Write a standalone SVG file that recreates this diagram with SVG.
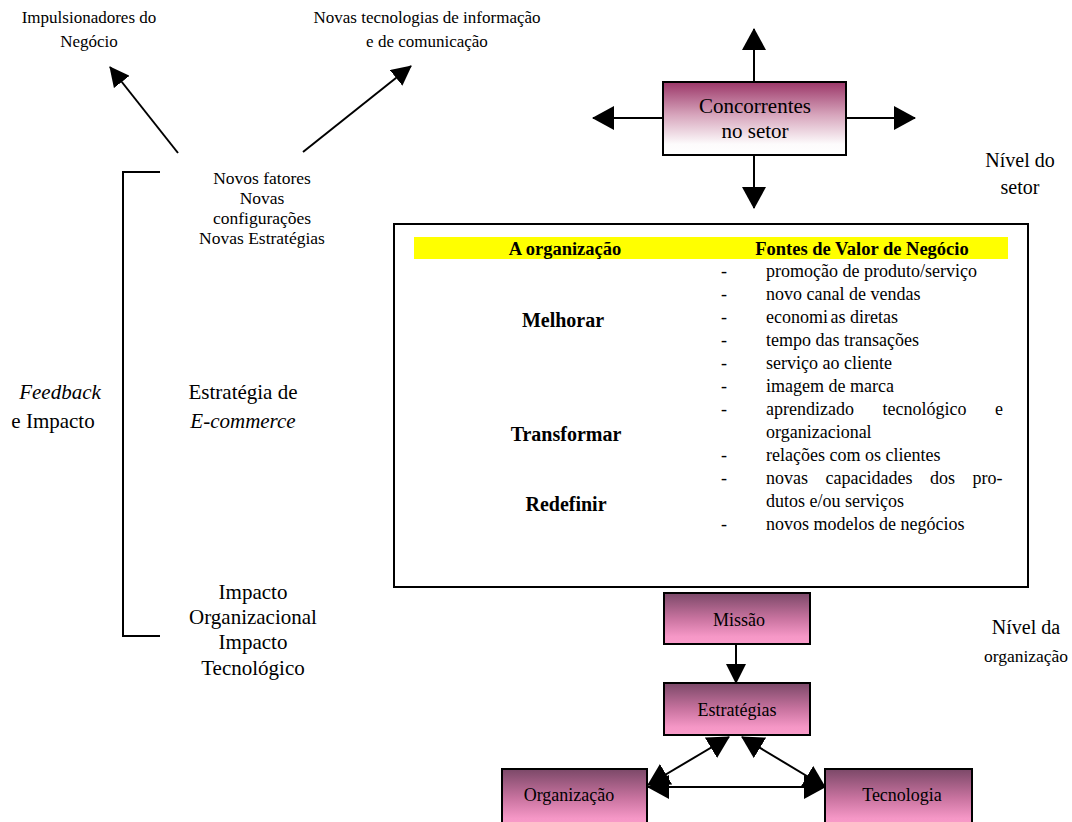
<svg xmlns="http://www.w3.org/2000/svg" width="1072" height="822" viewBox="0 0 1072 822">
  <defs>
    <linearGradient id="gradSetor" x1="0" y1="0" x2="0" y2="1">
      <stop offset="0" stop-color="#9b3668"/>
      <stop offset="0.45" stop-color="#d7a5bc"/>
      <stop offset="0.85" stop-color="#fdfbfc"/>
      <stop offset="1" stop-color="#ffffff"/>
    </linearGradient>
    <linearGradient id="gradOrg" x1="0" y1="0" x2="0" y2="1">
      <stop offset="0" stop-color="#7b4868"/>
      <stop offset="0.5" stop-color="#c8739f"/>
      <stop offset="0.85" stop-color="#f597c6"/>
      <stop offset="1" stop-color="#fa9cca"/>
    </linearGradient>
    <marker id="head" markerUnits="userSpaceOnUse" markerWidth="22" markerHeight="24" viewBox="0 0 22 24" refX="21" refY="12" orient="auto-start-reverse">
      <path d="M0,0 L22,12 L0,24 z" fill="#000"/>
    </marker>
    <marker id="headSmall" markerUnits="userSpaceOnUse" markerWidth="20" markerHeight="20" viewBox="0 0 20 20" refX="19" refY="10" orient="auto-start-reverse">
      <path d="M0,0 L20,10 L0,20 z" fill="#000"/>
    </marker>
  </defs>
  <style>
    text { font-family: "Liberation Serif", "Times New Roman", serif; fill: #000; }
    .c { text-anchor: middle; }
    .top { font-size: 17px; }
    .fat { font-size: 17.5px; }
    .mid { font-size: 21px; }
    .lvl { font-size: 20px; }
    .hd { font-size: 18.5px; font-weight: bold; }
    .act { font-size: 20px; font-weight: bold; }
    .li { font-size: 18px; }
    .bx { font-size: 18px; }
    .it { font-style: italic; }
    .edge { stroke: #000; stroke-width: 2; fill: none; }
    .box { stroke: #000; stroke-width: 2; }
  </style>

  <rect width="1072" height="822" fill="#fff"/>

  <!-- side labels -->
  <g id="impulsionadores">
    <text class="top c" x="89" y="23">Impulsionadores do</text>
    <text class="top c" x="89" y="47">Negócio</text>
  </g>
  <g id="novas-tecnologias">
    <text class="top c" x="427" y="23">Novas tecnologias de informação</text>
    <text class="top c" x="427" y="47">e de comunicação</text>
  </g>
  <g id="novos-fatores">
    <text class="fat c" x="262" y="184">Novos fatores</text>
    <text class="fat c" x="262" y="204">Novas</text>
    <text class="fat c" x="262" y="224">configurações</text>
    <text class="fat c" x="262" y="244">Novas Estratégias</text>
  </g>
  <g id="feedback">
    <text class="mid c it" x="60" y="399">Feedback</text>
    <text class="mid c" x="53" y="428">e Impacto</text>
  </g>
  <g id="estrategia-ecommerce">
    <text class="mid c" x="243" y="399">Estratégia de</text>
    <text class="mid c it" x="243" y="428">E-commerce</text>
  </g>
  <g id="impacto">
    <text class="mid c" x="253" y="599">Impacto</text>
    <text class="mid c" x="253" y="624">Organizacional</text>
    <text class="mid c" x="253" y="649">Impacto</text>
    <text class="mid c" x="253" y="675">Tecnológico</text>
  </g>
  <g id="nivel-setor">
    <text class="lvl c" x="1020" y="167">Nível do</text>
    <text class="lvl c" x="1020" y="194">setor</text>
  </g>
  <g id="nivel-organizacao">
    <text class="lvl c" x="1026" y="634">Nível da</text>
    <text class="bx c" x="1026" y="662" style="font-size:17.5px">organização</text>
  </g>

  <!-- feedback bracket -->
  <g id="bracket">
    <path class="edge" d="M160,172 H123 V636 H160"/>
  </g>

  <!-- industry level -->
  <g id="concorrentes">
    <rect class="box" x="663" y="82" width="183" height="73" fill="url(#gradSetor)"/>
    <text class="mid c" x="755" y="113">Concorrentes</text>
    <text class="mid c" x="755" y="138">no setor</text>
  </g>

  <!-- value table -->
  <g id="fontes-valor">
    <rect class="box" x="394" y="224" width="634" height="363" fill="#fff"/>
    <rect x="414" y="237" width="594" height="22" fill="#ffff00"/>
    <text class="hd c" x="565" y="255">A organização</text>
    <text class="hd c" x="862" y="255">Fontes de Valor de Negócio</text>
    <text class="act c" x="563" y="327">Melhorar</text>
    <text class="act c" x="566" y="441">Transformar</text>
    <text class="act c" x="566" y="511">Redefinir</text>
    <g class="li">
      <text x="721" y="277">-</text>
      <text x="766" y="277">promoção de produto/serviço</text>
      <text x="721" y="300">-</text>
      <text x="766" y="300">novo canal de vendas</text>
      <text x="721" y="323">-</text>
      <text x="766" y="323">economi<tspan dx="-2"> as</tspan> diretas</text>
      <text x="721" y="346">-</text>
      <text x="766" y="346">tempo das transações</text>
      <text x="721" y="369">-</text>
      <text x="766" y="369">serviço ao cliente</text>
      <text x="721" y="392">-</text>
      <text x="766" y="392">imagem de marca</text>
      <text x="721" y="415">-</text>
      <text x="766" y="415" word-spacing="24">aprendizado tecnológico e</text>
      <text x="766" y="438">organizacional</text>
      <text x="721" y="461">-</text>
      <text x="766" y="461">relações com os clientes</text>
      <text x="721" y="484">-</text>
      <text x="766" y="484" word-spacing="13">novas capacidades dos pro-</text>
      <text x="766" y="507">dutos e/ou serviços</text>
      <text x="721" y="530">-</text>
      <text x="766" y="530">novos modelos de negócios</text>
    </g>
  </g>

  <!-- organization level -->
  <g id="missao">
    <rect class="box" x="664" y="593" width="146" height="51" fill="url(#gradOrg)"/>
    <text class="bx c" x="739" y="626">Missão</text>
  </g>
  <g id="estrategias">
    <rect class="box" x="664" y="683" width="146" height="52" fill="url(#gradOrg)"/>
    <text class="bx c" x="737" y="716">Estratégias</text>
  </g>
  <g id="organizacao">
    <rect class="box" x="502" y="769" width="145" height="58" fill="url(#gradOrg)"/>
    <text class="bx c" x="569" y="801">Organização</text>
  </g>
  <g id="tecnologia">
    <rect class="box" x="825" y="769" width="147" height="58" fill="url(#gradOrg)"/>
    <text class="bx c" x="902" y="801">Tecnologia</text>
  </g>

  <!-- connectors -->
  <g id="connectors">
    <line class="edge" x1="178" y1="153" x2="110" y2="67" marker-end="url(#headSmall)"/>
    <line class="edge" x1="303" y1="152" x2="411" y2="66" marker-end="url(#headSmall)"/>
    <line class="edge" x1="754" y1="82" x2="754" y2="29" marker-end="url(#head)"/>
    <line class="edge" x1="663" y1="118" x2="593" y2="118" marker-end="url(#head)"/>
    <line class="edge" x1="846" y1="118" x2="915" y2="118" marker-end="url(#head)"/>
    <line class="edge" x1="754" y1="155" x2="754" y2="208" marker-end="url(#head)"/>
    <line class="edge" x1="736" y1="645" x2="736" y2="683" marker-end="url(#headSmall)"/>
    <line class="edge" x1="729" y1="737" x2="648" y2="785" marker-start="url(#head)" marker-end="url(#head)"/>
    <line class="edge" x1="742" y1="737" x2="825" y2="787" marker-start="url(#head)" marker-end="url(#head)"/>
    <line class="edge" x1="648" y1="787" x2="825" y2="787" marker-start="url(#head)" marker-end="url(#head)"/>
  </g>
</svg>
